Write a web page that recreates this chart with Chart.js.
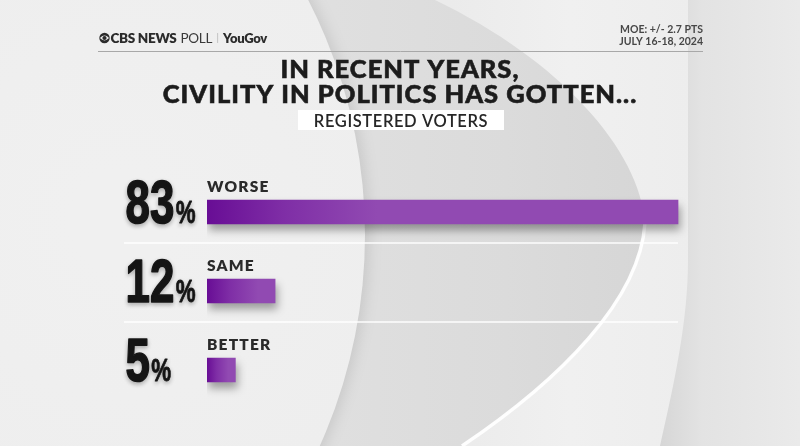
<!DOCTYPE html>
<html>
<head>
<meta charset="utf-8">
<script src="https://cdn.jsdelivr.net/npm/chart.js@4"></script>
<style>
  html,body{margin:0;padding:0;background:#e6e6e6;}
  #wrap{width:800px;height:446px;position:relative;}
</style>
</head>
<body>
<div id="wrap"><canvas id="c" width="800" height="446"></canvas></div>
<script>
// ---- data ----
const categories = ['WORSE', 'SAME', 'BETTER'];
const values = [83, 12, 5];
const titleLines = ['IN RECENT YEARS,', 'CIVILITY IN POLITICS HAS GOTTEN...'];
const subtitle = 'REGISTERED VOTERS';
const moeLines = ['MOE: +/- 2.7 PTS', 'JULY 16-18, 2024'];

const TITLE_FONT = '"Lato", "Open Sans", sans-serif';
const NUM_FONT = '"Liberation Sans", Arial, sans-serif';

const bgPlugin = {
  id: 'bg',
  beforeDraw(chart) {
    const ctx = chart.ctx;
    ctx.save();
    ctx.fillStyle = '#e4e4e4';
    ctx.fillRect(0, 0, 800, 446);
    // middle gray band
    let g = ctx.createLinearGradient(290, 0, 650, 0);
    g.addColorStop(0, '#e0e0e0');
    g.addColorStop(0.6, '#dbdbdb');
    g.addColorStop(1, '#d6d6d6');
    ctx.fillStyle = g;
    ctx.fillRect(280, 0, 420, 446);
    // right region beyond lens
    g = ctx.createLinearGradient(660, 0, 800, 0);
    g.addColorStop(0, '#d6d6d6');
    g.addColorStop(0.3, '#e3e3e3');
    g.addColorStop(1, '#eaeaea');
    ctx.fillStyle = g;
    ctx.fillRect(660, 0, 140, 446);
    // lens
    ctx.beginPath();
    ctx.moveTo(435, 0);
    ctx.bezierCurveTo(560, 60, 640, 150, 645, 223);
    ctx.bezierCurveTo(640, 300, 560, 380, 462, 446);
    ctx.lineTo(660, 446);
    ctx.bezierCurveTo(675, 380, 688, 320, 688, 260);
    ctx.lineTo(688, 0);
    ctx.closePath();
    g = ctx.createLinearGradient(450, 0, 690, 0);
    g.addColorStop(0, '#ebebeb');
    g.addColorStop(0.5, '#f0f0f0');
    g.addColorStop(1, '#ededed');
    ctx.fillStyle = g;
    ctx.fill();
    // white streak on lower lens edge
    ctx.beginPath();
    ctx.moveTo(645, 223);
    ctx.bezierCurveTo(640, 300, 560, 380, 462, 446);
    ctx.strokeStyle = 'rgba(255,255,255,0.95)';
    ctx.lineWidth = 3.5;
    ctx.stroke();
    // left big circle
    ctx.beginPath();
    ctx.arc(-150, 235, 515, 0, Math.PI * 2);
    g = ctx.createRadialGradient(120, 220, 50, 120, 220, 520);
    g.addColorStop(0, '#f0f0f0');
    g.addColorStop(0.8, '#ededed');
    g.addColorStop(1, '#e9e9e9');
    ctx.fillStyle = g;
    ctx.shadowColor = 'rgba(0,0,0,0.10)';
    ctx.shadowBlur = 14;
    ctx.shadowOffsetX = 4;
    ctx.fill();
    ctx.restore();

    // header line
    ctx.save();
    ctx.strokeStyle = '#a8a8a8';
    ctx.lineWidth = 1;
    ctx.beginPath();
    ctx.moveTo(98, 51.5);
    ctx.lineTo(703, 51.5);
    ctx.stroke();

    // separators
    const y = chart.scales.y;
    ctx.strokeStyle = 'rgba(255,255,255,0.95)';
    ctx.lineWidth = 1.5;
    for (let i = 0; i < categories.length - 1; i++) {
      const sy = (y.getPixelForValue(i) + y.getPixelForValue(i + 1)) / 2 - 8.5;
      ctx.beginPath();
      ctx.moveTo(124, sy);
      ctx.lineTo(678, sy);
      ctx.stroke();
    }
    ctx.restore();
  }
};

const shadowPlugin = {
  id: 'barShadow',
  beforeDatasetsDraw(chart) {
    const ctx = chart.ctx;
    ctx.save();
    ctx.shadowColor = 'rgba(0,0,0,0.35)';
    ctx.shadowBlur = 9;
    ctx.shadowOffsetY = 6;
    ctx.shadowOffsetX = 2;
  },
  afterDatasetsDraw(chart) {
    chart.ctx.restore();
  }
};

const textPlugin = {
  id: 'texts',
  afterDraw(chart) {
    const ctx = chart.ctx;
    ctx.save();
    ctx.textBaseline = 'alphabetic';

    // logo
    const lx = 104.5, ly = 38;
    ctx.fillStyle = '#2b2b2b';
    ctx.beginPath(); ctx.arc(lx, ly, 5.2, 0, Math.PI * 2); ctx.fill();
    ctx.fillStyle = '#eeeeee';
    ctx.beginPath();
    ctx.moveTo(lx - 4.6, ly);
    ctx.quadraticCurveTo(lx, ly - 4.8, lx + 4.6, ly);
    ctx.quadraticCurveTo(lx, ly + 4.8, lx - 4.6, ly);
    ctx.fill();
    ctx.fillStyle = '#2b2b2b';
    ctx.beginPath(); ctx.arc(lx, ly, 2.1, 0, Math.PI * 2); ctx.fill();

    let x = 110.5;
    const hy = 43;
    ctx.textAlign = 'left';
    ctx.fillStyle = '#2b2b2b';
    ctx.font = '800 13.5px ' + TITLE_FONT;
    ctx.letterSpacing = '-0.3px';
    ctx.fillText('CBS NEWS', x, hy);
    x += ctx.measureText('CBS NEWS').width + 4;
    ctx.font = '400 13.5px ' + TITLE_FONT;
    ctx.fillStyle = '#3a3a3a';
    ctx.fillText('POLL', x, hy);
    x += ctx.measureText('POLL').width + 5;
    ctx.fillStyle = '#c4c4c4';
    ctx.fillRect(x, 33, 1, 10);
    x += 6;
    ctx.fillStyle = '#2b2b2b';
    ctx.font = '800 13px ' + TITLE_FONT;
    ctx.fillText('YouGov', x, hy);
    ctx.letterSpacing = '0px';

    // MOE
    ctx.textAlign = 'right';
    ctx.fillStyle = '#474747';
    ctx.font = '700 10.5px ' + TITLE_FONT;
    ctx.fillText(moeLines[0], 703, 33);
    ctx.fillText(moeLines[1], 703, 45);

    // title
    ctx.textAlign = 'center';
    ctx.fillStyle = '#1c1c1c';
    ctx.strokeStyle = '#1c1c1c';
    ctx.lineWidth = 0.6;
    ctx.font = '900 25.5px ' + TITLE_FONT;
    ctx.letterSpacing = '1px';
    ctx.fillText(titleLines[0], 400, 78);
    ctx.strokeText(titleLines[0], 400, 78);
    ctx.fillText(titleLines[1], 400, 103);
    ctx.strokeText(titleLines[1], 400, 103);
    ctx.letterSpacing = '0px';

    // subtitle box
    ctx.fillStyle = '#ffffff';
    ctx.fillRect(298, 110, 206, 20);
    ctx.fillStyle = '#262626';
    ctx.font = '600 16.5px ' + TITLE_FONT;
    ctx.letterSpacing = '0.6px';
    ctx.fillText(subtitle, 401, 126.5);
    ctx.letterSpacing = '0px';

    // category labels + numbers
    const meta = chart.getDatasetMeta(0);
    categories.forEach((cat, i) => {
      const bar = meta.data[i];
      const bottom = bar.y + bar.height / 2;
      const top = bar.y - bar.height / 2;
      ctx.textAlign = 'left';
      ctx.fillStyle = '#2a2a2a';
      ctx.font = '800 15.5px ' + TITLE_FONT;
      ctx.letterSpacing = '1.2px';
      ctx.fillText(cat, 207, top - 8);
      ctx.letterSpacing = '0px';
      // big number
      ctx.save();
      ctx.fillStyle = '#161616';
      ctx.strokeStyle = '#161616';
      ctx.lineWidth = 1.6;
      ctx.lineJoin = 'round';
      ctx.shadowColor = 'rgba(0,0,0,0.25)';
      ctx.shadowBlur = 4;
      ctx.shadowOffsetY = 2;
      ctx.translate(125.5, bottom - 1.5);
      ctx.scale(0.72, 1);
      ctx.font = '700 61px ' + NUM_FONT;
      const num = String(values[i]);
      ctx.fillText(num, 0, 0);
      ctx.strokeText(num, 0, 0);
      const w = ctx.measureText(num).width;
      ctx.font = '700 31px ' + NUM_FONT;
      ctx.lineWidth = 0.8;
      ctx.fillText('%', w + 2, 0);
      ctx.strokeText('%', w + 2, 0);
      ctx.restore();
    });
    ctx.restore();
  }
};

function barColor(context) {
  const chart = context.chart;
  const ca = chart.chartArea;
  if (!ca) return '#8f48b0';
  const ctx = chart.ctx;
  const xs = chart.scales.x;
  const v = values[context.dataIndex] || 0;
  const x0 = xs.getPixelForValue(0);
  const x1 = xs.getPixelForValue(v);
  const w = x1 - x0;
  const g = ctx.createLinearGradient(x0, 0, x0 + Math.min(w * 0.75, 170), 0);
  g.addColorStop(0, '#680d95');
  g.addColorStop(0.45, '#7f2ea6');
  g.addColorStop(1, '#914ab2');
  return g;
}

new Chart(document.getElementById('c'), {
  type: 'bar',
  data: {
    labels: categories,
    datasets: [{
      data: values,
      backgroundColor: barColor,
      borderWidth: 0,
      barThickness: 24,
      borderSkipped: false
    }]
  },
  options: {
    indexAxis: 'y',
    responsive: false,
    animation: false,
    layout: { padding: { left: 207, right: 25.5, top: 172.5, bottom: 36.5 } },
    scales: {
      x: { display: false, min: 0, max: 100 },
      y: { display: false }
    },
    plugins: {
      legend: { display: false },
      tooltip: { enabled: false },
      title: { display: false }
    }
  },
  plugins: [bgPlugin, shadowPlugin, textPlugin]
});
</script>
</body>
</html>
